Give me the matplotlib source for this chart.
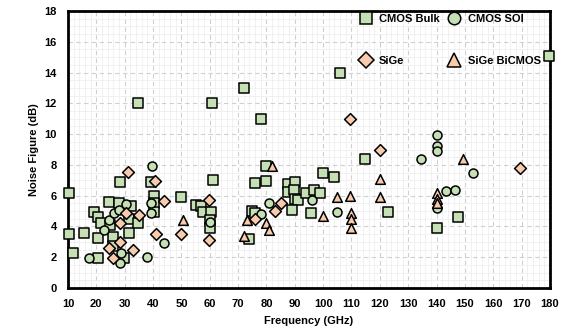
import matplotlib.pyplot as plt
from matplotlib.lines import Line2D

# Data (frequency in GHz, noise figure in dB)
bulk_f = [10.4, 10.4, 11.7, 15.6, 20.5, 24.4, 19.2, 20.5, 21.6, 20.5, 24.8, 25.8, 28, 32.2,
          31.5, 25.8, 29.8, 31.5, 34.6, 28.3, 34.6, 39.2, 40.3, 40.3, 40.3, 49.8, 55, 56.8,
          57.5, 60.3, 60, 60, 60.7, 61, 72, 78, 75, 76, 74, 76, 80, 80, 87.5, 90, 87.5,
          89.6, 90, 91, 89, 94, 96.7, 98.8, 95.6, 100, 103.7, 105.8, 114.6, 123, 140,
          147.7, 179.7]
bulk_nf = [6.2, 3.5, 2.3, 3.6, 1.95, 5.6, 4.95, 4.6, 4.2, 3.25, 4.1, 3.3, 5.5, 5.3,
           3.6, 2.7, 1.95, 4.5, 4.2, 6.9, 12.0, 6.9, 6.0, 5.5, 4.95, 5.9, 5.4, 5.3,
           4.95, 4.95, 4.4, 3.9, 12.0, 7.0, 13.0, 11.0, 5.0, 4.9, 3.2, 6.8, 6.95, 7.9,
           6.75, 6.9, 6.25, 6.4, 5.8, 5.7, 5.1, 6.2, 6.4, 6.2, 4.9, 7.5, 7.2, 14.0,
           8.4, 4.95, 3.9, 4.6, 15.1]

soi_f = [17.5, 22.7, 24.4, 26.3, 28, 30.4, 28.3, 28.6, 38, 39.2, 39.2, 39.6, 43.8, 60,
         78, 81, 96, 105, 134.6, 140, 140, 140, 143.5, 146.6, 153, 140]
soi_nf = [1.95, 3.77, 4.4, 4.87, 5.1, 5.45, 1.6, 2.3, 2.0, 5.5, 4.9, 7.9, 2.9, 4.3,
          4.8, 5.5, 5.7, 4.95, 8.4, 9.95, 9.2, 8.9, 6.3, 6.4, 7.45, 5.2]

sige_f = [31, 40.6, 43.8, 35, 30.4, 28.3, 28.3, 24.4, 25.8, 32.9, 41, 49.8, 59.6,
          59.6, 76, 83, 85, 109.6, 120, 169.5]
sige_nf = [7.55, 6.97, 5.65, 4.75, 4.87, 4.2, 3.0, 2.6, 1.95, 2.47, 3.5, 3.5, 5.7,
           3.1, 4.5, 5.0, 5.5, 11.0, 9.0, 7.8]

bicmos_f = [50.5, 72, 73, 80, 81, 81.8, 100, 105, 109.6, 110, 110, 110, 120, 120,
            140, 140, 140, 149.5]
bicmos_nf = [4.4, 3.4, 4.4, 4.2, 3.8, 7.9, 4.7, 5.9, 6.0, 4.9, 4.5, 3.9, 7.1, 5.9,
             6.2, 5.8, 5.5, 8.4]

green = '#c5e0b4'
orange = '#f8cbad'
font = ['Liberation Sans Narrow', 'Liberation Sans', 'DejaVu Sans']
plt.rcParams['font.family'] = font

fig = plt.figure(figsize=(5.69, 3.33), dpi=100)
ax = fig.add_axes([0.1195, 0.135, 0.847, 0.832])

kw = dict(edgecolor='black', linewidth=1.1, clip_on=False, zorder=3)
ax.scatter(bulk_f, bulk_nf, marker='s', s=42, facecolor=green, **kw)
ax.scatter(soi_f, soi_nf, marker='o', s=42, facecolor=green, **kw)
ax.scatter(sige_f, sige_nf, marker='D', s=36, facecolor=orange, **kw)
ax.scatter(bicmos_f, bicmos_nf, marker='^', s=48, facecolor=orange, **kw)

ax.set_xlim(10, 180)
ax.set_ylim(0, 18)
ax.set_xticks(range(10, 181, 10))
ax.set_yticks(range(0, 19, 2))
ax.set_xticks(range(10, 181, 2), minor=True)
ax.set_yticks([v / 2 for v in range(0, 37)], minor=True)
ax.tick_params(which='both', length=0, labelsize=8)
ax.tick_params(axis='x', pad=8)
ax.tick_params(axis='y', pad=8)
for lab in ax.get_xticklabels() + ax.get_yticklabels():
    lab.set_fontweight('bold')
ax.grid(which='major', color='#d0d0d0', linestyle=(0, (4, 3)), linewidth=0.8)
ax.grid(which='minor', color='#ececec', linestyle='-', linewidth=0.5)
ax.set_axisbelow(True)
for sp in ax.spines.values():
    sp.set_linewidth(2)

ax.set_xlabel('Frequency (GHz)', fontsize=8, fontweight='bold', labelpad=5)
ax.set_ylabel('Noise Figure (dB)', fontsize=8, fontweight='bold', labelpad=4)

handles = [
    Line2D([], [], marker='s', ls='', ms=9, mfc=green, mec='black', mew=1.1),
    Line2D([], [], marker='D', ls='', ms=8, mfc=orange, mec='black', mew=1.1),
    Line2D([], [], marker='o', ls='', ms=9, mfc=green, mec='black', mew=1.1),
    Line2D([], [], marker='^', ls='', ms=10, mfc=orange, mec='black', mew=1.1),
]
labels = ['CMOS Bulk', 'SiGe', 'CMOS SOI', 'SiGe BiCMOS']
ax.legend(handles, labels, ncol=2, loc='upper right', frameon=False,
          prop={'weight': 'bold', 'size': 8}, handletextpad=0.2,
          columnspacing=0.3, labelspacing=2.9, borderaxespad=0.0,
          bbox_to_anchor=(0.99, 1.005))

fig.savefig('out.png', dpi=100)
